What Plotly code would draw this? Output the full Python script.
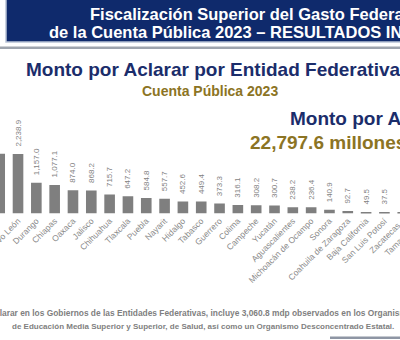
import plotly.graph_objects as go

W, H = 400, 340

categories = ["Veracruz", "Nuevo León", "Durango", "Chiapas", "Oaxaca", "Jalisco",
              "Chihuahua", "Tlaxcala", "Puebla", "Nayarit", "Hidalgo", "Tabasco",
              "Guerrero", "Colima", "Campeche", "Yucatán", "Aguascalientes",
              "Michoacán de Ocampo", "Sonora", "Coahuila de Zaragoza",
              "Baja California", "San Luis Potosí", "Zacatecas", "Tamaulipas"]
values = [2247.9, 2238.9, 1157.0, 1077.1, 874.0, 868.2, 715.7, 647.2, 584.8,
          557.7, 452.6, 449.4, 373.3, 316.1, 308.2, 300.7, 238.2, 236.4, 140.9,
          92.7, 49.5, 37.5, 24.0, 12.0]

NAVY = "#1b2d6b"
GOLD = "#8c7424"
GRAY = "#7f7f7f"
FONT = "Liberation Sans, Arial, sans-serif"

def px(x):
    return x / W

def py(y):
    return 1 - y / H

base_px = 213.5
units_per_px = 37.63
i0 = 0.3 / 18.32
i1 = 400.3 / 18.32

fig = go.Figure()
fig.add_trace(go.Bar(
    x=categories, y=values,
    marker=dict(color=GRAY, line=dict(width=0)),
    width=0.58,
    texttemplate="\u00a0\u00a0%{y:,.1f}",
    textposition="outside",
    textangle=-90,
    constraintext="none",
    textfont=dict(family=FONT, size=8, color=GRAY),
    cliponaxis=False,
))

shapes = [
    dict(type="rect", xref="paper", yref="paper", x0=px(6), x1=px(402), y0=py(42), y1=py(-2),
         fillcolor="#0f2a6c", line=dict(color="#b9c3d6", width=1.5), layer="above"),
    dict(type="rect", xref="paper", yref="paper", x0=px(-2), x1=px(402), y0=py(49), y1=py(46.5),
         fillcolor="#9ea4ae", line=dict(width=0), layer="above"),
    dict(type="rect", xref="paper", yref="paper", x0=px(330), x1=px(402), y0=py(339), y1=py(336.5),
         fillcolor="#8e96a4", line=dict(width=0), layer="above"),
]

annotations = [
    dict(text="<b>Fiscalización Superior del Gasto Federalizado</b>", x=px(88), y=py(14),
         xanchor="left", yanchor="middle", font=dict(family=FONT, size=16.5, color="white")),
    dict(text="<b>de la Cuenta Pública 2023 – RESULTADOS INDIVIDUALES</b>", x=px(47), y=py(32),
         xanchor="left", yanchor="middle", font=dict(family=FONT, size=16.5, color="white")),
    dict(text="<b>Monto por Aclarar por Entidad Federativa</b>", x=px(24), y=py(70),
         xanchor="left", yanchor="middle", font=dict(family=FONT, size=19, color=NAVY)),
    dict(text="<b>Cuenta Pública 2023</b>", x=px(210), y=py(91),
         xanchor="center", yanchor="middle", font=dict(family=FONT, size=14, color=GOLD)),
    dict(text="<b>Monto por Aclarar</b>", x=px(288), y=py(118),
         xanchor="left", yanchor="middle", font=dict(family=FONT, size=19, color=NAVY)),
    dict(text="<b>22,797.6 millones de pesos</b>", x=px(248), y=py(142),
         xanchor="left", yanchor="middle", font=dict(family=FONT, size=19, color=GOLD)),
    dict(text="<b>Monto por Aclarar en los Gobiernos de las Entidades Federativas, incluye 3,060.8 mdp observados en los Organismos</b>",
         x=px(-56.5), y=py(313), xanchor="left", yanchor="middle",
         font=dict(family=FONT, size=8.4, color=GRAY)),
    dict(text="<b>de Educación Media Superior y Superior, de Salud, así como un Organismo Desconcentrado Estatal.</b>",
         x=px(203), y=py(326), xanchor="center", yanchor="middle",
         font=dict(family=FONT, size=8, color=GRAY)),
]
# tick labels of the two categories whose ticks fall just past the right edge
for idx in (22, 23):
    frac = (idx - i0) / (i1 - i0)
    annotations.append(dict(text=categories[idx], x=frac + px(2), y=py(base_px + 4),
                            xanchor="right", yanchor="top", textangle=-45,
                            font=dict(family=FONT, size=8.5, color="#8a8a8a")))
for a in annotations:
    a.update(xref="paper", yref="paper", showarrow=False)

fig.update_layout(
    width=W, height=H,
    margin=dict(l=0, r=0, t=0, b=0, autoexpand=False),
    paper_bgcolor="white", plot_bgcolor="rgba(0,0,0,0)",
    showlegend=False,
    shapes=shapes,
    annotations=annotations,
    xaxis=dict(domain=[0, 1], range=[i0, i1], tickangle=-45, showgrid=False,
               showline=False, zeroline=False, ticks="", automargin=False,
               ticklabeloverflow="allow",
               tickfont=dict(family=FONT, size=8.5, color="#8a8a8a")),
    yaxis=dict(domain=[(H - base_px) / H, 1], range=[0, base_px * units_per_px],
               visible=False, showgrid=False, zeroline=False, automargin=False),
)

fig.write_html("out.html")
